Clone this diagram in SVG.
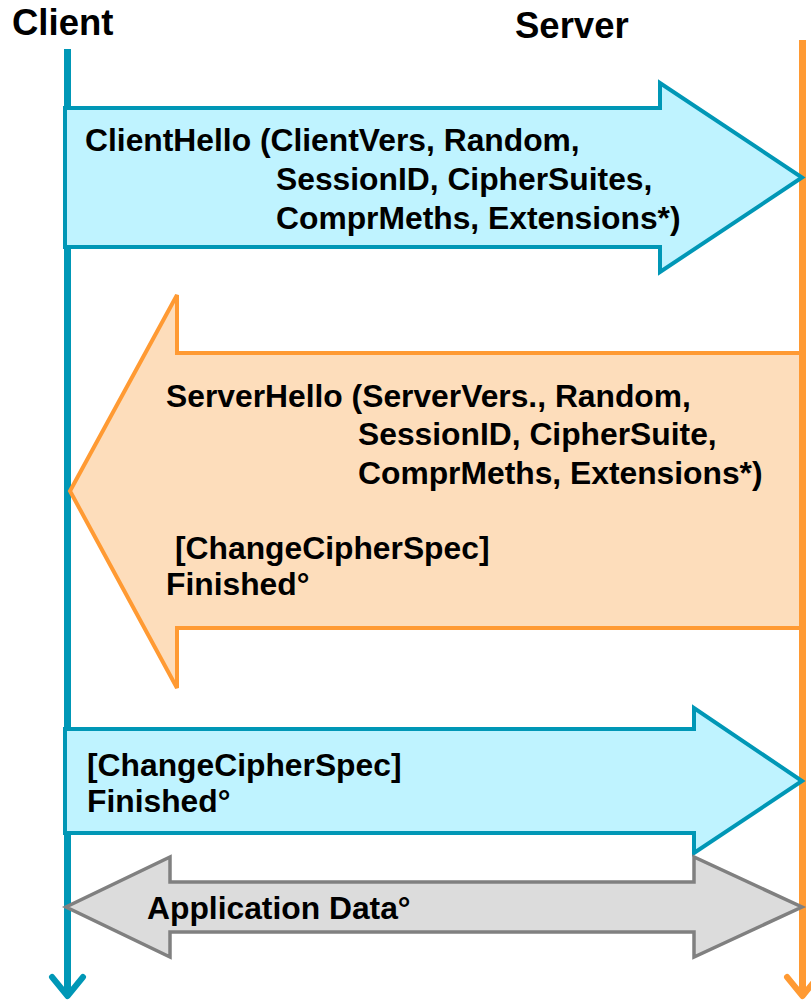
<svg xmlns="http://www.w3.org/2000/svg" width="811" height="1002" viewBox="0 0 811 1002">
  <style>
    .t { font-family: "Liberation Sans", Arial, sans-serif; font-weight: bold; fill: #000; }
    .title { font-size: 36.5px; }
    .lbl { font-size: 31.8px; }
    .cyan { fill: #BFF3FF; stroke: #0097B6; stroke-width: 4; stroke-linejoin: miter; }
    .orange { fill: #FDDDBB; stroke: #FF9A33; stroke-width: 4; stroke-linejoin: miter; }
    .gray { fill: #DCDCDC; stroke: #808080; stroke-width: 3.5; stroke-linejoin: miter; }
    .lifeC { stroke: #0097B6; stroke-width: 7; fill: none; }
    .lifeS { stroke: #FF9A33; stroke-width: 7; fill: none; }
    .headC { stroke: #0097B6; stroke-width: 6; fill: none; stroke-linecap: round; stroke-linejoin: round; }
    .headS { stroke: #FF9A33; stroke-width: 6; fill: none; stroke-linecap: round; stroke-linejoin: round; }
  </style>
  <rect x="0" y="0" width="811" height="1002" fill="#FFFFFF"/>

  <g id="client">
    <text class="t title" x="12" y="35">Client</text>
    <line class="lifeC" x1="67.5" y1="49" x2="67.5" y2="995"/>
    <polyline class="headC" points="52,977 67.5,996 83,977"/>
  </g>

  <g id="server">
    <text class="t title" x="515" y="38">Server</text>
    <line class="lifeS" x1="802.5" y1="40" x2="802.5" y2="996"/>
    <polyline class="headS" points="787,977 802.5,996 818,977"/>
  </g>

  <g id="connectors">
    <g id="msg-clienthello">
      <polygon class="cyan" points="65,108 660,108 660,83 802,177.5 660,272 660,247 65,247"/>
      <text class="t lbl" x="85" y="151">ClientHello (ClientVers, Random,</text>
      <text class="t lbl" x="276" y="190">SessionID, CipherSuites,</text>
      <text class="t lbl" x="276" y="229">ComprMeths, Extensions*)</text>
    </g>
    <g id="msg-serverhello">
      <polygon class="orange" points="801,353 177,353 177,295 70,491 177,688 177,628 801,628"/>
      <text class="t lbl" x="166" y="407">ServerHello (ServerVers., Random,</text>
      <text class="t lbl" x="358" y="445">SessionID, CipherSuite,</text>
      <text class="t lbl" x="358" y="484">ComprMeths, Extensions*)</text>
      <text class="t lbl" x="175" y="559">[ChangeCipherSpec]</text>
      <text class="t lbl" x="166" y="595">Finished°</text>
    </g>
    <g id="msg-client-finished">
      <polygon class="cyan" points="65,729 694,729 694,708 802,781 694,853 694,833 65,833"/>
      <text class="t lbl" x="87" y="776">[ChangeCipherSpec]</text>
      <text class="t lbl" x="87" y="812">Finished°</text>
    </g>
    <g id="msg-appdata">
      <polygon class="gray" points="170,882 694,882 694,857 802,907 694,957 694,932 170,932 170,957 66,907 170,857"/>
      <text class="t lbl" x="147" y="919">Application Data°</text>
    </g>
  </g>
</svg>
